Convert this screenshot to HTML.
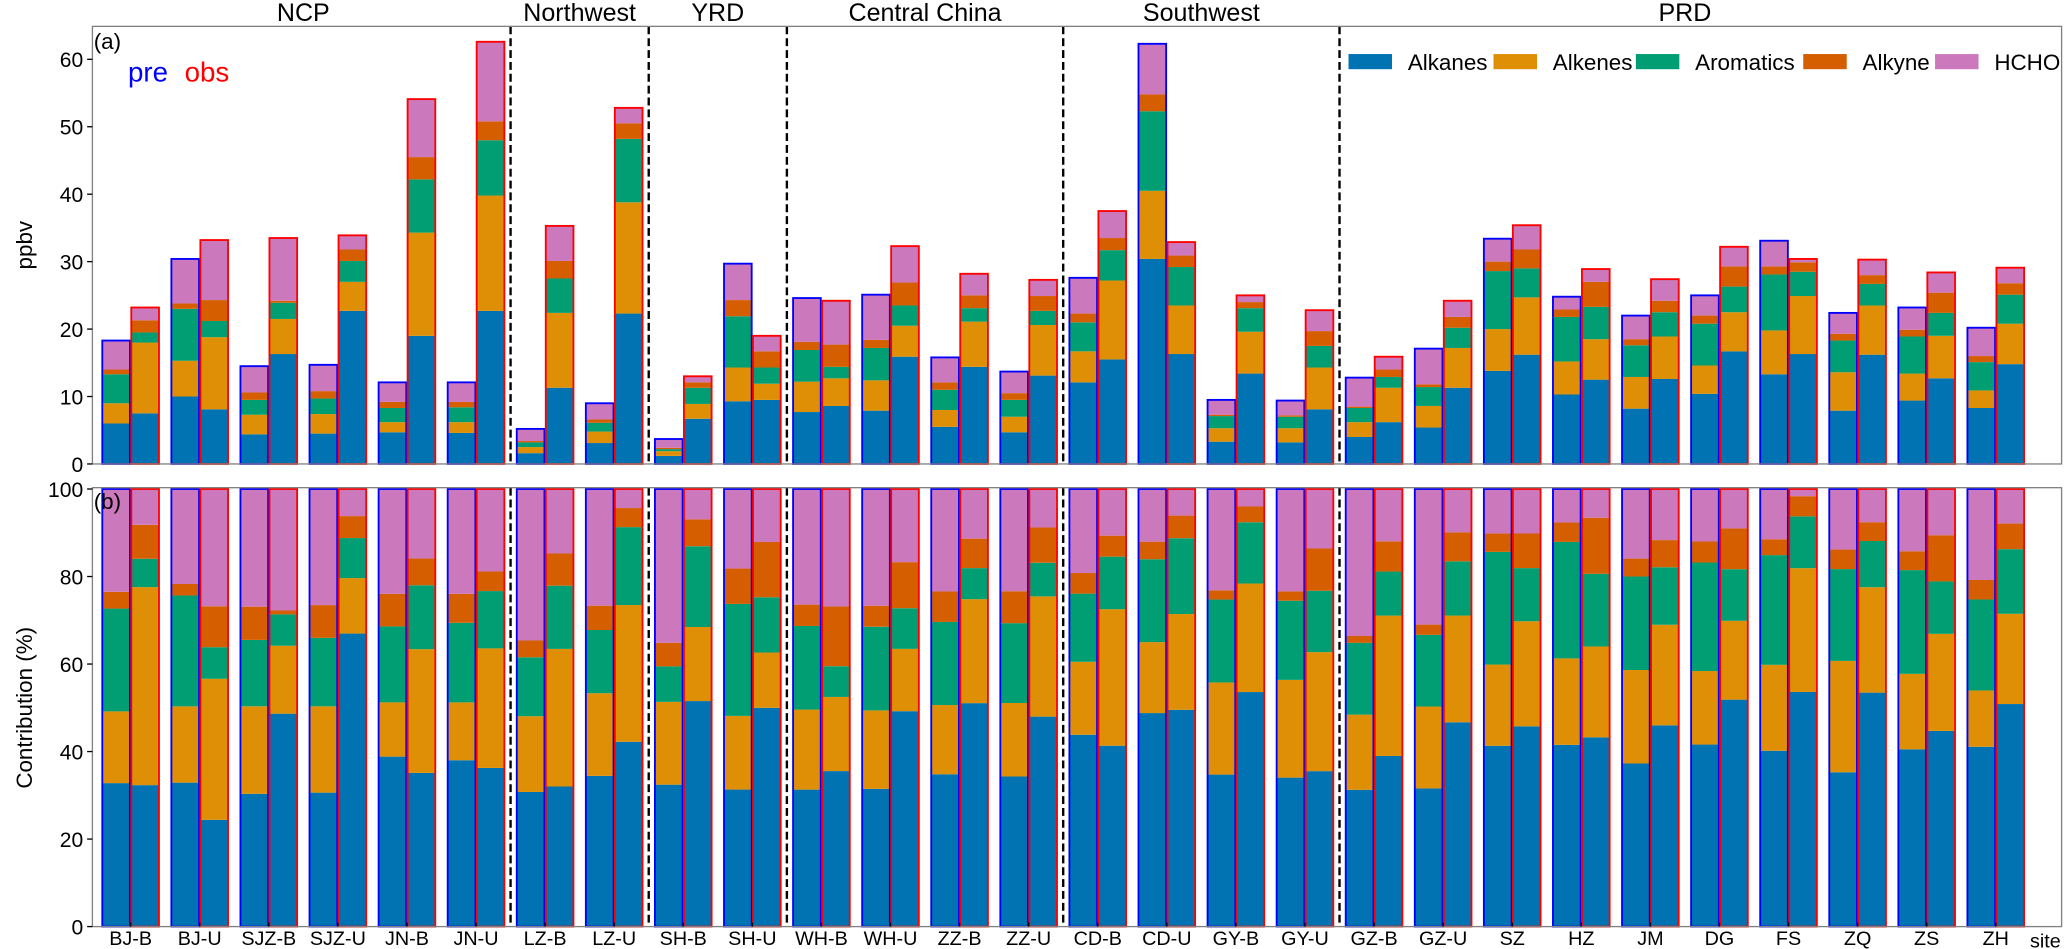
<!DOCTYPE html>
<html><head><meta charset="utf-8"><style>
html,body{margin:0;padding:0;background:#fff;}
svg{display:block;font-family:"Liberation Sans","DejaVu Sans",sans-serif;}
</style></head><body>
<svg id="chart" width="2067" height="949" viewBox="0 0 1568 720" xmlns="http://www.w3.org/2000/svg"></svg>
<script>
const sites=["BJ-B","BJ-U","SJZ-B","SJZ-U","JN-B","JN-U","LZ-B","LZ-U","SH-B","SH-U","WH-B","WH-U","ZZ-B","ZZ-U","CD-B","CD-U","GY-B","GY-U","GZ-B","GZ-U","SZ","HZ","JM","DG","FS","ZQ","ZS","ZH"];
const species=["Alkanes","Alkenes","Aromatics","Alkyne","HCHO"];
// cumulative tops (ppbv): alkanes, +alkenes, +aromatics, +alkyne, total
const preCum=[[6,9,13.3,14,18.3],[10,15.3,23,23.8,30.4],[4.4,7.3,9.5,10.6,14.5],[4.5,7.4,9.7,10.8,14.7],[4.7,6.2,8.3,9.2,12.1],[4.6,6.2,8.4,9.2,12.1],[1.6,2.5,3.2,3.4,5.2],[3.1,4.8,6.1,6.6,9],[1.2,1.9,2.2,2.4,3.7],[9.3,14.3,21.9,24.3,29.7],[7.7,12.2,16.9,18.1,24.6],[7.9,12.4,17.2,18.4,25.1],[5.5,8,11,12.1,15.8],[4.7,7,9.5,10.5,13.7],[12.1,16.7,21,22.3,27.6],[30.4,40.5,52.3,54.8,62.3],[3.3,5.3,7.1,7.3,9.5],[3.2,5.3,7,7.2,9.4],[4,6.2,8.3,8.5,12.8],[5.4,8.6,11.4,11.8,17.1],[13.8,20,28.6,30,33.4],[10.3,15.2,21.8,22.9,24.8],[8.2,12.9,17.6,18.5,22],[10.4,14.6,20.8,22,25],[13.3,19.8,28.1,29.3,33.1],[7.9,13.6,18.3,19.3,22.4],[9.4,13.4,18.9,19.9,23.2],[8.3,10.9,15.1,16,20.2]];
const obsCum=[[7.5,18,19.5,21.3,23.2],[8.1,18.8,21.2,24.3,33.2],[16.3,21.5,23.9,24.2,33.5],[22.7,27,30.1,31.8,33.9],[19,34.3,42.2,45.5,54.1],[22.7,39.8,48,50.8,62.6],[11.3,22.4,27.5,30.1,35.3],[22.3,38.8,48.2,50.5,52.8],[6.7,8.9,11.3,12.1,13],[9.5,11.9,14.3,16.7,19],[8.6,12.7,14.4,17.7,24.2],[15.9,20.5,23.5,26.9,32.3],[14.4,21.1,23.1,25,28.2],[13.1,20.6,22.7,24.9,27.3],[15.5,27.2,31.7,33.5,37.5],[16.3,23.5,29.2,30.9,32.9],[13.4,19.6,23.1,24,25],[8.1,14.3,17.5,19.7,22.8],[6.2,11.3,12.9,14,15.9],[11.3,17.2,20.2,21.8,24.2],[16.2,24.7,29,31.8,35.4],[12.5,18.5,23.3,27,28.9],[12.6,18.9,22.5,24.2,27.4],[16.7,22.5,26.3,29.3,32.2],[16.3,24.9,28.5,29.9,30.4],[16.2,23.5,26.7,28,30.3],[12.7,19,22.4,25.4,28.4],[14.8,20.8,25.1,26.8,29.1]];
const regions=["NCP","Northwest","YRD","Central China","Southwest","PRD"];
const regionStart=[0,6,8,10,14,18];
const topTicks=[0,10,20,30,40,50,60];
const botTicks=[0,20,40,60,80,100];

const colors=["#0173b2","#de8f05","#029e73","#d55e00","#cc78bc"];
const svg=document.getElementById('chart');
const NS="http://www.w3.org/2000/svg";
function mk(tag,attrs,parent){const e=document.createElementNS(NS,tag);for(const k in attrs)e.setAttribute(k,attrs[k]);(parent||svg).appendChild(e);return e;}
const L=70,R=1564,T1=20,B1=352,T2=370,B2=703;
const xs=i=>99+i*52.41;
const y1=v=>B1-v*(B1-45)/60;
const y2=v=>B2-v*(B2-371)/100;
const BW=21;

function drawPanel(yf,isPct,gname){
  const g=mk('g',{});
  
  
  sites.forEach((s,i)=>{
    [[preCum[i],'#0000ff',-11,'pre'],[obsCum[i],'#ff0000',11,'obs']].forEach(([cum,ec,off,kind])=>{
      const tot=cum[4];
      const x=xs(i)+off-BW/2;
      let prev=0;
      cum.forEach((c,k)=>{
        const a=isPct?prev/tot*100:prev, b=isPct?c/tot*100:c;
        const r=mk('rect',{x:x,y:yf(b),width:BW,height:Math.max(0,yf(a)-yf(b)),fill:colors[k]},g);
        
        
        prev=c;
      });
      const o=mk('rect',{x:x,y:yf(isPct?100:tot),width:BW,height:yf(0)-yf(isPct?100:tot),fill:'none',stroke:ec,'stroke-width':1.4},g);
      
      
    });
  });
}
drawPanel(y1,false,'panel-a-bars');
drawPanel(y2,true,'panel-b-bars');

regionStart.slice(1).forEach(st=>{
  const x=(xs(st-1)+xs(st))/2;
  [[T1,B1],[T2,B2]].forEach(([a,b])=>{
    const l=mk('line',{x1:x,x2:x,y1:a,y2:b,stroke:'#000','stroke-width':1.8,'stroke-dasharray':'6,3'});
    
    
  });
});
regions.forEach((r,k)=>{
  const s=regionStart[k], e=(k+1<regionStart.length?regionStart[k+1]:sites.length)-1;
  const t=mk('text',{x:(xs(s)+xs(e))/2,y:16,'text-anchor':'middle','font-size':19});
  t.textContent=r;
  
  
});
[[T1,B1,'panel-a-frame'],[T2,B2,'panel-b-frame']].forEach(([a,b,n])=>{
  const f=mk('rect',{x:L,y:a,width:R-L,height:b-a,fill:'none',stroke:'#808080','stroke-width':1});
  
  
});
topTicks.forEach(v=>{
  mk('line',{x1:L-4,x2:L,y1:y1(v),y2:y1(v),stroke:'#000'});
  const t=mk('text',{x:L-7,y:y1(v)+6,'text-anchor':'end','font-size':16});
  t.textContent=v;
  
  
});
botTicks.forEach(v=>{
  mk('line',{x1:L-4,x2:L,y1:y2(v),y2:y2(v),stroke:'#000'});
  const t=mk('text',{x:L-7,y:y2(v)+6,'text-anchor':'end','font-size':16});
  t.textContent=v;
  
  
});
sites.forEach((s,i)=>{
  mk('line',{x1:xs(i),x2:xs(i),y1:B2-3,y2:B2,stroke:'#000'});
  const t=mk('text',{x:xs(i),y:717,'text-anchor':'middle','font-size':15});
  t.textContent=s;
  
  
});
let t=mk('text',{x:1540,y:719,'font-size':15});t.textContent='site';


t=mk('text',{x:0,y:0,'text-anchor':'middle','font-size':17,transform:'translate(24,186) rotate(-90)'});t.textContent='ppbv';


t=mk('text',{x:0,y:0,'text-anchor':'middle','font-size':17,transform:'translate(24,537) rotate(-90)'});t.textContent='Contribution (%)';


t=mk('text',{x:71,y:37,'font-size':17});t.textContent='(a)';


t=mk('text',{x:71,y:386,'font-size':17});t.textContent='(b)';


t=mk('text',{x:97,y:62,'font-size':21,fill:'#0000ff'});t.textContent='pre';


t=mk('text',{x:140,y:62,'font-size':21,fill:'#ff0000'});t.textContent='obs';


const legX=[1023,1133,1241,1368,1468];
species.forEach((s,k)=>{
  const g=mk('g',{});
  
  
  mk('rect',{x:legX[k],y:41,width:33,height:11.5,fill:colors[k]},g);
  const tx=mk('text',{x:legX[k]+45,y:53,'font-size':17},g);tx.textContent=s;
});
</script>
</body></html>
